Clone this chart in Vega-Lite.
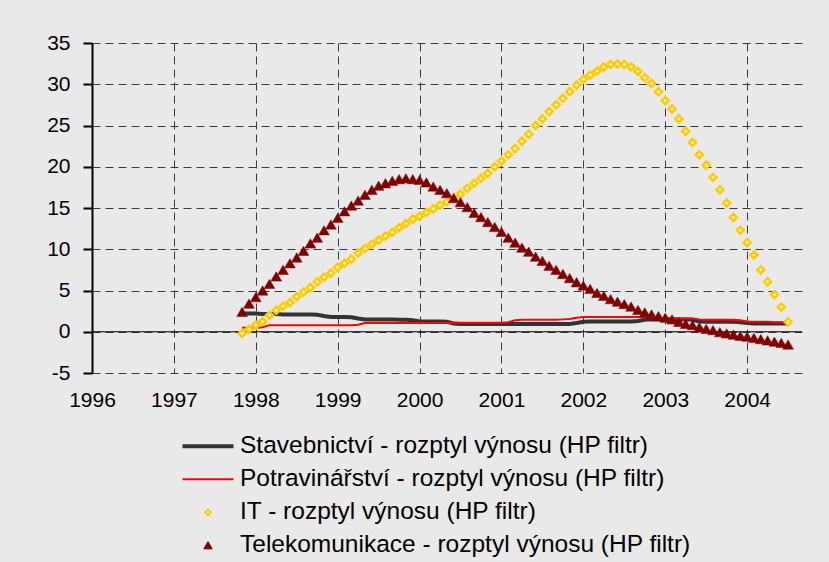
{
  "$schema": "https://vega.github.io/schema/vega-lite/v6.json",
  "width": 710,
  "height": 330,
  "autosize": {"type": "none"},
  "padding": {"left": 92, "top": 43, "right": 27, "bottom": 189},
  "background": "#e9e9e9",
  "config": {
    "view": {"stroke": null},
    "font": "Liberation Sans",
    "axis": {"labelFont": "Liberation Sans", "labelColor": "#000000"}
  },
  "data": {"values": [
    {"t":1997.833,"st":2.2,"po":0.5,"it":-0.2,"te":2.4},
    {"t":1997.917,"st":2.2,"po":0.5,"it":0.3,"te":3.4},
    {"t":1998.0,"st":2.2,"po":0.5,"it":0.8,"te":4.2},
    {"t":1998.083,"st":2.15,"po":0.55,"it":1.25,"te":5.0},
    {"t":1998.167,"st":2.15,"po":0.8,"it":2.0,"te":5.8},
    {"t":1998.25,"st":2.15,"po":0.8,"it":2.6,"te":6.7},
    {"t":1998.333,"st":2.1,"po":0.8,"it":3.1,"te":7.5},
    {"t":1998.417,"st":2.1,"po":0.8,"it":3.55,"te":8.3},
    {"t":1998.5,"st":2.1,"po":0.8,"it":4.25,"te":9.0},
    {"t":1998.583,"st":2.1,"po":0.8,"it":4.8,"te":9.8},
    {"t":1998.667,"st":2.1,"po":0.8,"it":5.35,"te":10.7},
    {"t":1998.75,"st":2.05,"po":0.8,"it":6.05,"te":11.4},
    {"t":1998.833,"st":1.9,"po":0.8,"it":6.6,"te":12.3},
    {"t":1998.917,"st":1.8,"po":0.8,"it":7.1,"te":13.0},
    {"t":1999.0,"st":1.8,"po":0.8,"it":7.8,"te":13.8},
    {"t":1999.083,"st":1.8,"po":0.8,"it":8.3,"te":14.6},
    {"t":1999.167,"st":1.75,"po":0.8,"it":8.8,"te":15.3},
    {"t":1999.25,"st":1.6,"po":0.85,"it":9.55,"te":15.9},
    {"t":1999.333,"st":1.5,"po":1.05,"it":10.1,"te":16.6},
    {"t":1999.417,"st":1.5,"po":1.05,"it":10.6,"te":17.2},
    {"t":1999.5,"st":1.5,"po":1.05,"it":11.1,"te":17.7},
    {"t":1999.583,"st":1.5,"po":1.05,"it":11.6,"te":18.0},
    {"t":1999.667,"st":1.5,"po":1.05,"it":12.05,"te":18.3},
    {"t":1999.75,"st":1.45,"po":1.05,"it":12.6,"te":18.5},
    {"t":1999.833,"st":1.45,"po":1.05,"it":13.1,"te":18.6},
    {"t":1999.917,"st":1.4,"po":1.05,"it":13.65,"te":18.5},
    {"t":2000.0,"st":1.25,"po":1.05,"it":14.0,"te":18.4},
    {"t":2000.083,"st":1.25,"po":1.05,"it":14.45,"te":18.1},
    {"t":2000.167,"st":1.25,"po":1.05,"it":14.9,"te":17.6},
    {"t":2000.25,"st":1.25,"po":1.05,"it":15.35,"te":17.2},
    {"t":2000.333,"st":1.2,"po":1.05,"it":15.75,"te":16.8},
    {"t":2000.417,"st":1.0,"po":1.1,"it":16.2,"te":16.2},
    {"t":2000.5,"st":0.95,"po":1.1,"it":16.7,"te":15.7},
    {"t":2000.583,"st":0.95,"po":1.1,"it":17.4,"te":15.1},
    {"t":2000.667,"st":0.95,"po":1.1,"it":18.0,"te":14.4},
    {"t":2000.75,"st":0.95,"po":1.1,"it":18.6,"te":13.9},
    {"t":2000.833,"st":0.95,"po":1.1,"it":19.2,"te":13.3},
    {"t":2000.917,"st":0.95,"po":1.1,"it":20.0,"te":12.7},
    {"t":2001.0,"st":0.95,"po":1.1,"it":20.7,"te":12.1},
    {"t":2001.083,"st":0.95,"po":1.15,"it":21.45,"te":11.4},
    {"t":2001.167,"st":0.95,"po":1.4,"it":22.2,"te":10.8},
    {"t":2001.25,"st":0.95,"po":1.45,"it":23.1,"te":10.2},
    {"t":2001.333,"st":0.95,"po":1.45,"it":23.95,"te":9.7},
    {"t":2001.417,"st":0.95,"po":1.45,"it":25.0,"te":9.1},
    {"t":2001.5,"st":0.95,"po":1.45,"it":25.8,"te":8.6},
    {"t":2001.583,"st":0.95,"po":1.45,"it":26.7,"te":8.0},
    {"t":2001.667,"st":0.95,"po":1.45,"it":27.5,"te":7.5},
    {"t":2001.75,"st":0.95,"po":1.5,"it":28.3,"te":7.0},
    {"t":2001.833,"st":0.95,"po":1.55,"it":29.1,"te":6.5},
    {"t":2001.917,"st":1.05,"po":1.7,"it":29.9,"te":6.0},
    {"t":2002.0,"st":1.2,"po":1.8,"it":30.6,"te":5.6},
    {"t":2002.083,"st":1.25,"po":1.8,"it":31.1,"te":5.2},
    {"t":2002.167,"st":1.25,"po":1.8,"it":31.6,"te":4.7},
    {"t":2002.25,"st":1.25,"po":1.8,"it":32.1,"te":4.35},
    {"t":2002.333,"st":1.25,"po":1.8,"it":32.4,"te":3.95},
    {"t":2002.417,"st":1.25,"po":1.8,"it":32.45,"te":3.65},
    {"t":2002.5,"st":1.25,"po":1.8,"it":32.4,"te":3.35},
    {"t":2002.583,"st":1.25,"po":1.8,"it":32.1,"te":3.05},
    {"t":2002.667,"st":1.3,"po":1.8,"it":31.55,"te":2.65},
    {"t":2002.75,"st":1.45,"po":1.75,"it":30.8,"te":2.35},
    {"t":2002.833,"st":1.5,"po":1.65,"it":30.1,"te":2.1},
    {"t":2002.917,"st":1.5,"po":1.6,"it":29.1,"te":1.9},
    {"t":2003.0,"st":1.5,"po":1.6,"it":28.0,"te":1.7},
    {"t":2003.083,"st":1.5,"po":1.6,"it":27.0,"te":1.5},
    {"t":2003.167,"st":1.5,"po":1.6,"it":25.8,"te":1.2},
    {"t":2003.25,"st":1.5,"po":1.6,"it":24.3,"te":0.95},
    {"t":2003.333,"st":1.45,"po":1.6,"it":22.95,"te":0.8},
    {"t":2003.417,"st":1.25,"po":1.5,"it":21.45,"te":0.55},
    {"t":2003.5,"st":1.2,"po":1.45,"it":20.2,"te":0.35},
    {"t":2003.583,"st":1.2,"po":1.45,"it":18.7,"te":0.2},
    {"t":2003.667,"st":1.2,"po":1.45,"it":17.2,"te":-0.05},
    {"t":2003.75,"st":1.2,"po":1.45,"it":15.6,"te":-0.2},
    {"t":2003.833,"st":1.2,"po":1.45,"it":13.85,"te":-0.35},
    {"t":2003.917,"st":1.15,"po":1.4,"it":12.3,"te":-0.5},
    {"t":2004.0,"st":1.05,"po":1.25,"it":10.8,"te":-0.6},
    {"t":2004.083,"st":1.0,"po":1.2,"it":9.3,"te":-0.75},
    {"t":2004.167,"st":1.0,"po":1.2,"it":7.5,"te":-0.9},
    {"t":2004.25,"st":1.0,"po":1.2,"it":6.05,"te":-1.05},
    {"t":2004.333,"st":1.0,"po":1.15,"it":4.5,"te":-1.2},
    {"t":2004.417,"st":1.0,"po":1.15,"it":3.0,"te":-1.35},
    {"t":2004.5,"st":1.0,"po":1.15,"it":1.2,"te":-1.55}
  ]},
  "encoding": {
    "x": {
      "field": "t", "type": "quantitative",
      "scale": {"domain": [1996, 2004.67], "nice": false, "zero": false},
      "axis": {
        "title": null, "values": [1996,1997,1998,1999,2000,2001,2002,2003,2004],
        "format": "d", "grid": true, "gridDash": [8, 5], "gridColor": "#3c3c3c", "gridWidth": 1,
        "domain": false, "ticks": false, "tickSize": 0, "labelFlush": false, "labelOverlap": false,
        "labelFontSize": 21, "labelPadding": 16, "labelColor": "#000000"
      }
    }
  },
  "layer": [
    {
      "mark": {"type": "line", "strokeWidth": 4, "interpolate": "linear"},
      "encoding": {
        "y": {
          "field": "st", "type": "quantitative",
          "scale": {"domain": [-5, 35], "nice": false, "zero": false},
          "axis": {
            "title": null, "values": [-5,0,5,10,15,20,25,30,35],
            "labelExpr": "'' + datum.value", "labelFlush": false,
            "grid": true, "gridDash": [8, 5], "gridColor": "#3c3c3c", "gridWidth": 1,
            "domain": true, "domainColor": "#000000", "domainWidth": 2,
            "ticks": true, "tickSize": 9, "tickWidth": 2, "tickColor": "#000000",
            "labelFontSize": 21, "labelPadding": 13, "labelColor": "#000000"
          }
        },
        "color": {
          "datum": "a",
          "scale": {"domain": ["a", "b", "c", "d"], "range": ["#333333", "#ff0000", "#ffcc00", "#800000"]},
          "legend": {
            "orient": "none", "legendX": 90, "legendY": 391, "title": null, "padding": 0,
            "labelFontSize": 24.5, "labelFont": "Liberation Sans", "labelColor": "#000000", "labelLimit": 0,
            "rowPadding": 8, "symbolSize": 100, "symbolType": "stroke",
            "labelExpr": "datum.value == 'a' ? 'Stavebnictví - rozptyl výnosu (HP filtr)' : datum.value == 'b' ? 'Potravinářství - rozptyl výnosu (HP filtr)' : datum.value == 'c' ? 'IT - rozptyl výnosu (HP filtr)' : 'Telekomunikace - rozptyl výnosu (HP filtr)'",
            "encode": {
              "symbols": {
                "update": {
                  "x": {"value": 26},
                  "shape": {"signal": "datum.value == 'a' || datum.value == 'b' ? 'M-5.1,0L5.1,0' : datum.value == 'c' ? 'diamond' : 'triangle-up'"},
                  "size": {"signal": "datum.value == 'c' ? 32 : datum.value == 'd' ? 70 : 100"},
                  "stroke": {"signal": "datum.value == 'a' ? '#333333' : datum.value == 'b' ? '#ff0000' : datum.value == 'c' ? '#ffcc00' : '#800000'"},
                  "fill": {"signal": "datum.value == 'c' ? '#ffffff' : datum.value == 'd' ? '#800000' : 'transparent'"},
                  "strokeWidth": {"signal": "datum.value == 'a' ? 4 : datum.value == 'b' ? 2 : datum.value == 'c' ? 2 : 1"},
                  "opacity": {"value": 1}
                }
              },
              "labels": {
                "update": {"x": {"value": 58}}
              }
            }
          }
        }
      }
    },
    {
      "data": {"values": [{"z": 0}]},
      "mark": {"type": "rule", "color": "#000000", "strokeWidth": 1},
      "encoding": {"y": {"field": "z", "type": "quantitative"}, "x": null}
    },
    {
      "mark": {"type": "line", "strokeWidth": 2, "interpolate": "linear"},
      "encoding": {
        "y": {"field": "po", "type": "quantitative"},
        "color": {"datum": "b"}
      }
    },
    {
      "mark": {"type": "point", "shape": "diamond", "filled": true, "fill": "#ffffff", "stroke": "#ffcc00", "strokeWidth": 2.6, "size": 48, "opacity": 1},
      "encoding": {"y": {"field": "it", "type": "quantitative"}}
    },
    {
      "mark": {"type": "point", "shape": "triangle-up", "filled": true, "fill": "#800000", "stroke": "#800000", "strokeWidth": 0.5, "size": 115, "opacity": 1},
      "encoding": {"y": {"field": "te", "type": "quantitative"}}
    }
  ]
}
